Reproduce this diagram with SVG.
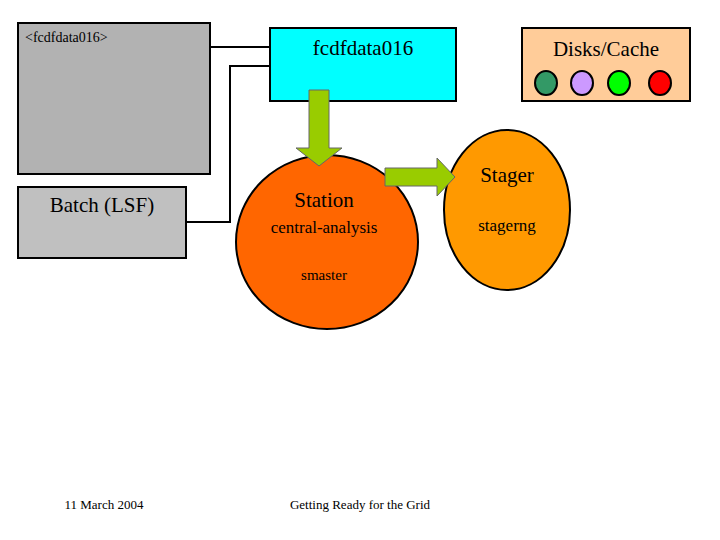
<svg xmlns="http://www.w3.org/2000/svg" width="720" height="540" viewBox="0 0 720 540">
<style>
.b{stroke:#000;stroke-width:2}
.t{font-family:"Liberation Serif",serif;fill:#000}
.ln{fill:none;stroke:#000;stroke-width:2}
.ar{fill:#99cc00;stroke:#666;stroke-width:1}
</style>
<rect width="720" height="540" fill="#fff"/>
<g id="connectors">
<polyline class="ln" points="210,47 270,47"/>
<polyline class="ln" points="186,222 230,222 230,66 270,66"/>
</g>
<g id="host"><rect class="b" x="18" y="23" width="192" height="151" fill="#b2b2b2"/>
<text class="t" x="25" y="42" font-size="14">&lt;fcdfdata016&gt;</text></g>
<g id="batch"><rect class="b" x="18" y="187" width="168" height="71" fill="#c0c0c0"/>
<text class="t" x="102" y="212" font-size="21" text-anchor="middle">Batch (LSF)</text></g>
<g id="fcdf"><rect class="b" x="270" y="28" width="186" height="73" fill="#00ffff"/>
<text class="t" x="363" y="55" font-size="21" text-anchor="middle">fcdfdata016</text></g>
<g id="disks"><rect class="b" x="522" y="28" width="168" height="73" fill="#ffcc99"/>
<text class="t" x="606" y="56" font-size="21" text-anchor="middle">Disks/Cache</text>
<ellipse class="b" cx="546" cy="83" rx="11" ry="12" fill="#339966"/>
<ellipse class="b" cx="582" cy="83" rx="11" ry="12" fill="#cc99ff"/>
<ellipse class="b" cx="619" cy="83" rx="11" ry="12" fill="#00ff00"/>
<ellipse class="b" cx="660" cy="83" rx="11" ry="12" fill="#ff0000"/>
</g>
<g id="station"><ellipse class="b" cx="327" cy="242" rx="91" ry="87" fill="#ff6600"/>
<text class="t" x="324" y="207" font-size="21" text-anchor="middle">Station</text>
<text class="t" x="324" y="233" font-size="17" text-anchor="middle">central-analysis</text>
<text class="t" x="324" y="280" font-size="15" text-anchor="middle">smaster</text></g>
<g id="stager"><ellipse class="b" cx="507" cy="210" rx="63" ry="80" fill="#ff9900"/>
<text class="t" x="507" y="182" font-size="21" text-anchor="middle">Stager</text>
<text class="t" x="507" y="231" font-size="17" text-anchor="middle">stagerng</text></g>
<g id="arrows">
<polygon class="ar" points="309,90 329,90 329,148 342,148 319,166 296,148 309,148"/>
<polygon class="ar" points="385,168 437,168 437,158 455,177 437,196 437,186 385,186"/>
</g>
<text class="t" x="104" y="509" font-size="13" text-anchor="middle">11 March 2004</text>
<text class="t" x="360" y="509" font-size="13" text-anchor="middle">Getting Ready for the Grid</text>
</svg>
